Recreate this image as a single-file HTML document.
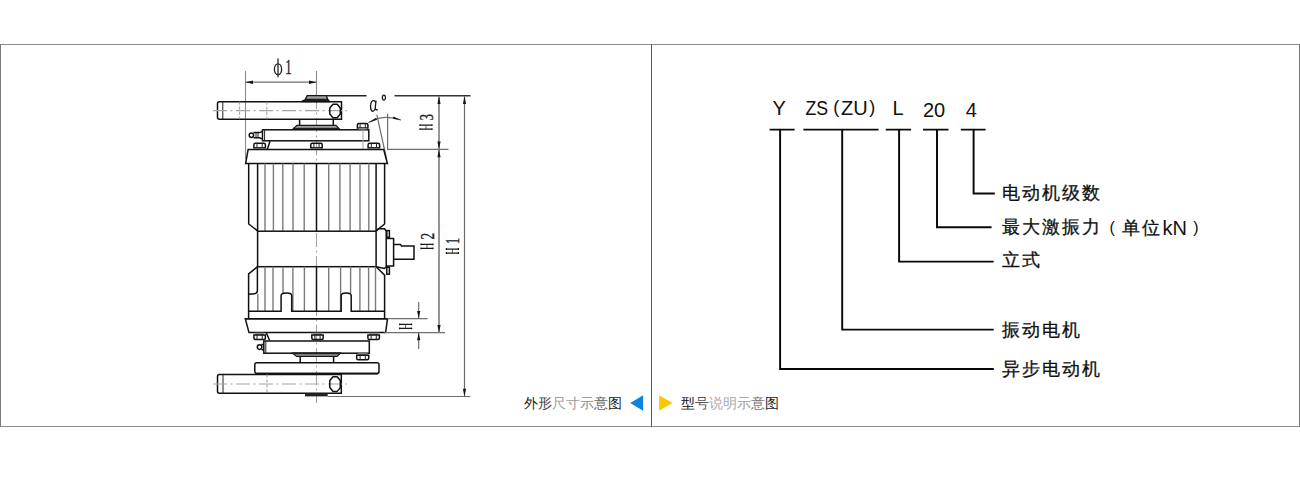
<!DOCTYPE html>
<html><head><meta charset="utf-8">
<style>
html,body{margin:0;padding:0;background:#fff;width:1300px;height:482px;overflow:hidden;}
body{position:relative;font-family:"Liberation Sans",sans-serif;}
svg{position:absolute;left:0;top:0;}
.k{stroke:#111;stroke-width:1.5;fill:none;}
.kf{stroke:#111;stroke-width:1.5;fill:#fff;}
.t{stroke:#222;stroke-width:1;fill:none;}
.g{stroke:#6e6e6e;stroke-width:1.2;fill:none;}
.f{stroke:#7a7a7a;stroke-width:1.4;fill:none;}
.gl{stroke:#a8a8a8;stroke-width:1;fill:none;}
.c{stroke:#a5a5a5;stroke-width:1.1;fill:none;stroke-dasharray:14 3.5 2 3.5;}
.d{stroke:#9a9a9a;stroke-width:1;fill:none;stroke-dasharray:3 2;}
.ar{fill:#151515;stroke:none;}
.lbl{font-family:"Liberation Serif",serif;font-size:19.5px;fill:#222;stroke:#222;stroke-width:0.35;}
.r{stroke:#0a0a0a;stroke-width:1.95;fill:none;}
.rt{font-family:"Liberation Sans",sans-serif;font-size:19px;fill:#111;}
.cap{position:absolute;font-size:14px;line-height:14px;white-space:nowrap;letter-spacing:0px;}
</style></head><body>
<svg width="1300" height="482" viewBox="0 0 1300 482">
<!-- frame -->
<line x1="0" y1="44.5" x2="1300" y2="44.5" stroke="#8c8c8c" stroke-width="1"/>
<line x1="0" y1="426.5" x2="1300" y2="426.5" stroke="#8c8c8c" stroke-width="1"/>
<line x1="0.5" y1="44" x2="0.5" y2="427" stroke="#7a7a7a" stroke-width="1"/>
<line x1="1299.5" y1="44" x2="1299.5" y2="427" stroke="#7a7a7a" stroke-width="1"/>
<line x1="651.5" y1="44" x2="651.5" y2="427" stroke="#5a5a5a" stroke-width="1"/>

<!-- ================= LEFT DRAWING ================= -->
<g id="draw">
<!-- center axis -->
<line x1="316.5" y1="71" x2="316.5" y2="95" stroke="#8a8a8a" stroke-width="1.1"/>
<line class="c" x1="316.5" y1="95" x2="316.5" y2="403"/>

<!-- phi1 dimension -->
<line x1="245.5" y1="71" x2="245.5" y2="159" stroke="#8a8a8a" stroke-width="1.1"/>
<line class="g" x1="245.5" y1="82.2" x2="316.5" y2="82.2"/>
<polygon class="ar" points="245.5,82.2 253,80.5 253,83.9"/>
<polygon class="ar" points="316.5,82.2 309,80.5 309,83.9"/>
<ellipse cx="278" cy="69.3" rx="3.6" ry="5.4" fill="none" stroke="#222" stroke-width="1.3"/>
<line x1="278" y1="58.5" x2="278" y2="77.3" stroke="#333" stroke-width="1.4"/>
<g transform="translate(285.2,74.2) scale(0.58,1)"><text class="lbl" style="font-size:22px">1</text></g>

<!-- top line -->
<line x1="326" y1="95.7" x2="366.5" y2="95.7" stroke="#222" stroke-width="1.4"/>
<line x1="394.5" y1="95.7" x2="470.5" y2="95.7" stroke="#333" stroke-width="1.5"/>

<!-- top boss -->
<polygon points="307.1,95.6 326.2,95.6 327.8,99.3 305.3,99.3" fill="#a0a0a0" stroke="#151515" stroke-width="1.3"/>
<polygon points="305.3,99.2 327.8,99.2 329.6,100.3 330.2,102.3 301,102.3 302,100.3" fill="#1e1e1e"/>

<!-- top handle bar -->
<path class="k" d="M219.5,101.7 H341.5 V119.2 H219.5 Q217.5,119.2 217.5,117.2 V103.7 Q217.5,101.7 219.5,101.7 Z"/>
<line class="t" x1="222.8" y1="101.7" x2="222.8" y2="119.2"/>
<line class="d" x1="239.6" y1="101.7" x2="239.6" y2="119.2"/>
<line class="d" x1="266.8" y1="101.7" x2="266.8" y2="119.2"/>
<line class="c" x1="213" y1="110.6" x2="347" y2="110.6"/>
<polygon class="k" stroke-linejoin="round" points="333,104.2 337.2,104.2 340.3,108 340.3,114 337.2,117.8 333,117.8 329.8,114 329.8,108"/>

<!-- neck + flange -->
<path class="k" d="M299.6,119.2 V125 M333.3,119.2 V125"/>
<polygon points="296.9,125.4 336,125.4 339.8,129.3 292.7,129.3" fill="#a0a0a0" stroke="#151515" stroke-width="1.2"/>
<rect x="293.5" y="127.8" width="45.5" height="1.8" fill="#1e1e1e"/>

<!-- upper crossbar -->
<rect class="k" x="262.5" y="129.8" width="106.3" height="11"/>
<line class="t" x1="264.6" y1="129.8" x2="264.6" y2="140.8"/>
<circle class="k" cx="251.4" cy="135.2" r="2.2"/>
<path class="k" d="M253.6,132.6 H259.5 L262.5,131.5 M253.6,137.8 H259.5 L262.5,139"/>
<line class="t" x1="256" y1="132.6" x2="256" y2="137.8"/>
<line class="t" x1="258" y1="132.6" x2="258" y2="137.8"/>
<!-- nut on top of crossbar -->
<g id="nut1">
<path class="k" stroke-width="1.3" d="M357.4,128.0 V124.9 Q357.4,123.4 358.9,123.4 H366.4 Q367.9,123.4 367.9,124.9 V128.0 Z"/><path class="t" stroke-width="1.1" d="M360.1,123.4 V128.0 M365.3,123.4 V128.0"/><rect x="358.6" y="128.0" width="8.1" height="1.6" fill="#8a8a8a"/>

</g>
<line class="gl" x1="363" y1="129.8" x2="363" y2="149"/>
<!-- nuts under crossbar -->
<path class="k" stroke-width="1.3" d="M253.9,147.8 V144.7 Q253.9,143.2 255.4,143.2 H263.9 Q265.4,143.2 265.4,144.7 V147.8 Z"/><path class="t" stroke-width="1.1" d="M257.0,143.2 V147.8 M262.2,143.2 V147.8"/><rect x="255.1" y="147.8" width="9.1" height="1.7" fill="#8a8a8a"/>

<path class="k" stroke-width="1.3" d="M310.8,147.8 V144.7 Q310.8,143.2 312.2,143.2 H320.8 Q322.2,143.2 322.2,144.7 V147.8 Z"/><path class="t" stroke-width="1.1" d="M313.9,143.2 V147.8 M319.1,143.2 V147.8"/><rect x="311.9" y="147.8" width="9.1" height="1.7" fill="#8a8a8a"/>

<path class="k" stroke-width="1.3" d="M368.1,147.8 V144.7 Q368.1,143.2 369.6,143.2 H378.1 Q379.6,143.2 379.6,144.7 V147.8 Z"/><path class="t" stroke-width="1.1" d="M371.3,143.2 V147.8 M376.5,143.2 V147.8"/><rect x="369.3" y="147.8" width="9.1" height="1.7" fill="#8a8a8a"/>

<line class="k" x1="270" y1="141.3" x2="267.3" y2="149.6"/>

<!-- alpha -->
<line class="g" x1="376.8" y1="114.7" x2="386.8" y2="160"/>
<line class="g" x1="387.6" y1="113.8" x2="387.6" y2="149.5"/>
<path class="g" d="M368.5,122.6 Q384,113.5 401,120"/>
<polygon class="ar" points="368.3,122.8 376,117.8 377,119.8"/>
<polygon class="ar" points="401,120.2 393.5,116.6 393,118.8"/>
<path d="M375.8,102.6 C375,100.4 372.8,100.1 371.6,101.7 C370.3,103.6 370.2,108.6 371.4,110.4 C372.6,112.1 374.7,111.2 375.4,108 M376.1,100.6 C375.7,104 375.2,106 375.3,108 C375.6,109.6 376.6,110.2 377.9,109.8" fill="none" stroke="#1a1a1a" stroke-width="1.3"/>
<ellipse cx="383.9" cy="97.6" rx="1.55" ry="2.5" fill="none" stroke="#1a1a1a" stroke-width="1.25"/>

<!-- top plate -->
<path class="k" d="M248.1,149.6 H383.7 L387.4,163.6 H245.6 Z"/>

<!-- upper fins -->
<path class="k" d="M248.7,163.6 V224 L257.6,230.8 M384.6,163.6 V224 L376.1,230.8"/>
<g class="f">
<line x1="265" y1="163.6" x2="265" y2="230.8"/><line x1="273.4" y1="163.6" x2="273.4" y2="230.8"/>
<line x1="282.8" y1="163.6" x2="282.8" y2="230.8"/><line x1="293" y1="163.6" x2="293" y2="230.8"/>
<line x1="304.2" y1="163.6" x2="304.2" y2="230.8"/><line x1="328.7" y1="163.6" x2="328.7" y2="230.8"/>
<line x1="339.9" y1="163.6" x2="339.9" y2="230.8"/><line x1="350.1" y1="163.6" x2="350.1" y2="230.8"/>
<line x1="360" y1="163.6" x2="360" y2="230.8"/><line x1="368.8" y1="163.6" x2="368.8" y2="230.8"/>
</g>
<path class="k" d="M257.6,163.6 V231 M376.1,163.6 V231 M316.5,163.6 V231"/>

<!-- band -->
<rect class="k" x="257.6" y="231.2" width="118.5" height="35.5"/>

<!-- terminal box -->
<path class="k" d="M376.1,231 L378.5,228.8 H384.5 L386.2,231 V266.7 L384.5,268.5 L376.1,266.7"/>
<path class="k" d="M386.2,238.6 H393.6 V266 H386.2"/>
<path class="k" d="M393.6,244.4 H400.5 L401.5,246 H414 V259.2 H393.6"/>
<rect class="k" x="386.8" y="230.6" width="2.6" height="6.6"/>
<rect class="k" x="386.8" y="267.2" width="2.6" height="7"/>

<!-- lower fins -->
<path class="k" d="M257.6,266.7 L248.6,273.8 V318.7 M376.1,266.7 L384.6,275.1 V318.7"/>
<g class="f">
<line x1="265" y1="266.7" x2="265" y2="311.2"/><line x1="273" y1="266.7" x2="273" y2="311.2"/>
<line x1="283" y1="266.7" x2="283" y2="293"/><line x1="292.9" y1="266.7" x2="292.9" y2="311.2"/>
<line x1="304.4" y1="266.7" x2="304.4" y2="311.2"/><line x1="328.7" y1="266.7" x2="328.7" y2="311.2"/>
<line x1="340.6" y1="266.7" x2="340.6" y2="311.2"/><line x1="350.6" y1="266.7" x2="350.6" y2="293"/>
<line x1="359.9" y1="266.7" x2="359.9" y2="311.2"/><line x1="368.6" y1="266.7" x2="368.6" y2="311.2"/>
<line x1="375.5" y1="266.7" x2="375.5" y2="311.2"/><line x1="257.8" y1="294" x2="257.8" y2="311.2"/>
</g>
<path class="k" d="M316.5,266.7 V311.2"/>
<path class="k" d="M257.4,266.7 V290.6 Q257.4,293.6 254.5,293.8 L248.6,294.2"/>
<path class="kf" d="M248.6,311.2 H281.1 V295.6 A5.3,2.6 0 0 1 291.7,295.6 V311.2 H341.2 V295.6 A5,2.6 0 0 1 351.2,295.6 V311.2 H384.6"/>

<!-- bottom plate -->
<line class="k" x1="245.3" y1="318.7" x2="387.5" y2="318.7"/>
<path class="k" d="M245.3,318.7 H387.5 L385.6,332.6 H249 Z"/>
<!-- nuts under plate -->
<rect x="255.1" y="332.7" width="9.1" height="2.3" fill="#8a8a8a"/><path class="k" stroke-width="1.3" d="M253.9,335.0 V338.1 Q253.9,339.6 255.4,339.6 H263.9 Q265.4,339.6 265.4,338.1 V335.0 Z"/><path class="t" stroke-width="1.1" d="M257.0,335.0 V339.6 M262.2,335.0 V339.6"/>

<rect x="312.9" y="332.7" width="9.1" height="2.3" fill="#8a8a8a"/><path class="k" stroke-width="1.3" d="M311.8,335.0 V338.1 Q311.8,339.6 313.2,339.6 H321.8 Q323.2,339.6 323.2,338.1 V335.0 Z"/><path class="t" stroke-width="1.1" d="M314.9,335.0 V339.6 M320.1,335.0 V339.6"/>

<rect x="369.1" y="332.7" width="9.1" height="2.3" fill="#8a8a8a"/><path class="k" stroke-width="1.3" d="M367.9,335.0 V338.1 Q367.9,339.6 369.4,339.6 H377.9 Q379.4,339.6 379.4,338.1 V335.0 Z"/><path class="t" stroke-width="1.1" d="M371.1,335.0 V339.6 M376.3,335.0 V339.6"/>

<line class="k" x1="266.4" y1="333" x2="269.6" y2="340.5"/>

<!-- lower crossbar -->
<rect class="k" x="263.8" y="341" width="105.5" height="12.2"/>
<line class="t" x1="265.8" y1="341" x2="265.8" y2="353.2"/>
<circle class="k" cx="259.6" cy="347.1" r="2.3"/>
<path class="k" d="M261.5,344.5 H263.8 M261.5,349.7 H263.8"/>

<!-- lower flange -->
<polygon points="292.6,353.2 340.5,353.2 337,356.4 296.6,356.4" fill="#a0a0a0" stroke="#151515" stroke-width="1.2"/>
<rect x="293" y="352.6" width="47" height="1.7" fill="#1e1e1e"/>
<path class="k" d="M300.2,356.4 V362.7 M333.6,356.4 V362.7"/>
<rect x="357.9" y="353.2" width="9.6" height="2.0" fill="#8a8a8a"/><path class="k" stroke-width="1.3" d="M356.7,355.2 V358.3 Q356.7,359.8 358.2,359.8 H367.2 Q368.7,359.8 368.7,358.3 V355.2 Z"/><path class="t" stroke-width="1.1" d="M360.1,355.2 V359.8 M365.3,355.2 V359.8"/>


<!-- disc -->
<rect class="k" x="254.8" y="362.7" width="124.2" height="10.9" rx="2"/>
<line x1="256" y1="373.6" x2="378" y2="373.6" stroke="#111" stroke-width="1.6"/>

<!-- lower handle bar -->
<path class="k" d="M219.5,374.4 H341.3 V393.2 H219.5 Q217.5,393.2 217.5,391.2 V376.4 Q217.5,374.4 219.5,374.4 Z"/>
<line class="t" x1="223" y1="374.4" x2="223" y2="393.2"/>
<line class="d" x1="267" y1="374.4" x2="267" y2="393.2"/>
<line class="c" x1="213" y1="384" x2="347" y2="384"/>
<polygon class="k" stroke-linejoin="round" points="333,376.7 337.2,376.7 340.3,380.5 340.3,387.6 337.2,391.4 333,391.4 329.8,387.6 329.8,380.5"/>
<rect x="305" y="393.2" width="22.7" height="3.2" fill="#222"/>

<!-- dimension lines right -->
<line class="g" x1="327.7" y1="396.5" x2="470.4" y2="396.5"/>
<line class="g" x1="387" y1="149.4" x2="448.5" y2="149.4"/>
<line class="g" x1="387.5" y1="318.6" x2="427.5" y2="318.6"/>
<line class="g" x1="384.4" y1="332.7" x2="445" y2="332.7"/>
<line x1="439" y1="96" x2="439" y2="332.7" stroke="#8a8a8a" stroke-width="1.8"/>
<line class="g" x1="464.5" y1="96" x2="464.5" y2="396.5"/>
<polygon class="ar" points="439,96.2 437.4,104 440.6,104"/>
<polygon class="ar" points="439,149.2 437.4,141.5 440.6,141.5"/>
<polygon class="ar" points="439,149.6 437.4,157.3 440.6,157.3"/>
<polygon class="ar" points="439,332.6 437.4,325 440.6,325"/>
<polygon class="ar" points="464.5,96.2 462.9,104 466.1,104"/>
<polygon class="ar" points="464.5,396.4 462.9,388.7 466.1,388.7"/>
<line class="g" x1="418.7" y1="302" x2="418.7" y2="318.5"/>
<line class="g" x1="418.7" y1="332.7" x2="418.7" y2="349"/>
<polygon class="ar" points="418.7,318.5 417.1,311 420.3,311"/>
<polygon class="ar" points="418.7,332.8 417.1,340.3 420.3,340.3"/>


<g transform="translate(432.6,129.8) rotate(-90)"><path d="M0.6,-12.6 V-0.6 M4.6,-12.6 V-0.6 M-0.3,-12.6 H1.5 M3.7,-12.6 H5.5 M-0.3,-0.6 H1.5 M3.7,-0.6 H5.5" stroke="#1a1a1a" stroke-width="1.25" fill="none"/><path d="M0.6,-6.6 H4.6" stroke="#333" stroke-width="0.8" fill="none"/><g transform="translate(9.2,0) scale(0.67,1)"><text class="lbl">3</text></g></g>
<g transform="translate(433.6,249) rotate(-90)"><path d="M0.6,-12.6 V-0.6 M4.6,-12.6 V-0.6 M-0.3,-12.6 H1.5 M3.7,-12.6 H5.5 M-0.3,-0.6 H1.5 M3.7,-0.6 H5.5" stroke="#1a1a1a" stroke-width="1.25" fill="none"/><path d="M0.6,-6.6 H4.6" stroke="#333" stroke-width="0.8" fill="none"/><g transform="translate(9.6,0) scale(0.68,1)"><text class="lbl">2</text></g></g>
<g transform="translate(459,253.6) rotate(-90)"><path d="M0.6,-12.6 V-0.6 M4.6,-12.6 V-0.6 M-0.3,-12.6 H1.5 M3.7,-12.6 H5.5 M-0.3,-0.6 H1.5 M3.7,-0.6 H5.5" stroke="#1a1a1a" stroke-width="1.25" fill="none"/><path d="M0.6,-6.6 H4.6" stroke="#333" stroke-width="0.8" fill="none"/><g transform="translate(9.5,0) scale(0.64,1)"><text class="lbl">1</text></g></g>
<g transform="translate(412.2,329) rotate(-90)"><path d="M0.6,-12.6 V-0.6 M4.6,-12.6 V-0.6 M-0.3,-12.6 H1.5 M3.7,-12.6 H5.5 M-0.3,-0.6 H1.5 M3.7,-0.6 H5.5" stroke="#1a1a1a" stroke-width="1.25" fill="none"/><path d="M0.6,-6.6 H4.6" stroke="#333" stroke-width="0.8" fill="none"/></g>
</g>

<!-- ================= RIGHT DIAGRAM ================= -->
<g>
<path class="r" d="M769.6,129.6 H794.6 M803.4,129.6 H878.6 M885.7,129.6 H911.1 M923,129.6 H948.5 M960.8,129.6 H985.6"/>
<path class="r" d="M780.1,129.6 V369 H993.8"/>
<path class="r" d="M842.2,129.6 V329.6 H993.7"/>
<path class="r" d="M899.1,129.6 V261.6 H993.7"/>
<path class="r" d="M937,129.6 V227.2 H991.6"/>
<path class="r" d="M973.6,129.6 V193.5 H994.8"/>
</g>
</svg>

<svg width="1300" height="482">
<g style="font-family:'Liberation Sans',sans-serif;font-size:20px;fill:#111;">
<text x="772.5" y="115">Y</text>
<text x="805.5" y="115" textLength="22.6" lengthAdjust="spacingAndGlyphs">ZS</text>
<text x="833.3" y="113" style="font-size:18px">(</text>
<text x="841" y="115">ZU</text>
<text x="869.3" y="113" style="font-size:18px">)</text>
<text x="892.5" y="115">L</text>
<text x="923" y="116.5">20</text>
<text x="965.7" y="116.5">4</text>
<text x="1162.5" y="234.6">kN</text>
<text x="1109.5" y="232.8" style="font-size:16px">(</text>
<text x="1193.3" y="232.8" style="font-size:16px">)</text>
</g>
<g style="font-family:'Liberation Sans',sans-serif;font-size:17.6px;fill:#111;letter-spacing:2px;stroke:#111;stroke-width:0.3;">
<text x="1001.7" y="199">电动机级数</text>
<text x="1002" y="233.3">最大激振力</text>
<text x="1121.8" y="233.9">单位</text>
<text x="1002" y="266">立式</text>
<text x="1001.7" y="335.5">振动电机</text>
<text x="1001.7" y="374.5">异步电动机</text>
</g>
</svg>
<div class="cap" style="left:524px;top:396px;"><span style="color:#222">外</span><span style="color:#444">形</span><span style="color:#a0a0a0">尺</span><span style="color:#999">寸</span><span style="color:#8a8a8a">示</span><span style="color:#666">意</span><span style="color:#222">图</span></div>
<svg width="1300" height="482" style="pointer-events:none">
<polygon points="630.2,403 643.1,395.2 643.1,410.8" fill="#0a84e0"/>
<polygon points="672.6,403 659.1,395.2 659.1,410.8" fill="#fac800"/>
</svg>
<div class="cap" style="left:681px;top:396px;"><span style="color:#111">型</span><span style="color:#555">号</span><span style="color:#aaa">说</span><span style="color:#aaa">明</span><span style="color:#999">示</span><span style="color:#777">意</span><span style="color:#222">图</span></div>
</body></html>
